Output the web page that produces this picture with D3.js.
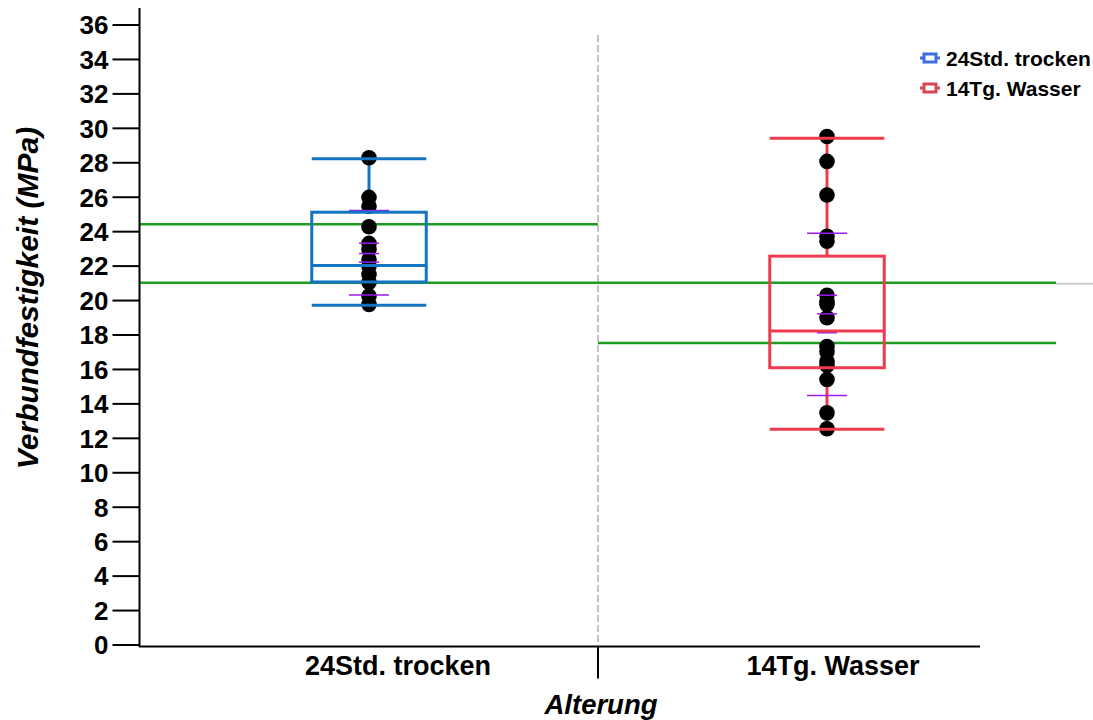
<!DOCTYPE html>
<html>
<head>
<meta charset="utf-8">
<script src="https://cdn.jsdelivr.net/npm/d3@7"></script>
<style>
body { margin: 0; background: #fff; }
text { font-family: "Liberation Sans", Arial, sans-serif; font-weight: bold; }
</style>
</head>
<body>
<svg id="chart" width="1093" height="720"></svg>
<script>
var categories = ["24Std. trocken", "14Tg. Wasser"]
var boxColors = ["#1474c4", "#ee3b4e"]
var legendColors = ["#3d6ee0", "#dd4456"]

// box statistics
var whiskerLow = [19.7, 12.5]
var q1 = [21.05, 16.07]
var median = [22.0, 18.2]
var q3 = [25.1, 22.55]
var whiskerHigh = [28.2, 29.4]

var points = [
    [28.26, 25.96, 25.45, 24.26, 23.29, 22.94, 22.36, 21.97, 21.49, 21.02, 20.23, 19.74],
    [29.5, 28.05, 26.1, 23.7, 23.42, 20.28, 19.9, 19.74, 18.97, 17.3, 17.0, 16.45, 16.2, 15.39, 13.45, 12.53]
]

// purple marks: mean +/- SD (long) and mean / CI (short)
var sdLines = [[25.2, 20.3], [23.88, 14.46]]
var ciLines = [[23.3, 22.7, 22.2], [20.28, 19.2, 18.1]]

// green reference lines per group
var refLines = [[24.4, 21.0], [21.0, 17.5]]

var yTicks = d3.range(0, 37, 2)
var labelShift = [29, 6]

var svg = d3.select("#chart")

var y = d3.scaleLinear().domain([0, 36]).range([644.5, 24.5])
var x = d3.scaleBand().domain(categories).range([140, 1056]).padding(0)
var boxWidth = x.bandwidth() * 0.25

// dashed separator between the groups
svg.append("line")
    .attr("x1", x(categories[1])).attr("x2", x(categories[1]))
    .attr("y1", 35).attr("y2", 646)
    .attr("stroke", "#c4c4c4").attr("stroke-width", 2)
    .attr("stroke-dasharray", "7,3")

// grey continuation of the 21 line on the right edge
svg.append("line")
    .attr("x1", x.range()[1]).attr("x2", 1093)
    .attr("y1", y(21.0) + 1).attr("y2", y(21.0) + 1)
    .attr("stroke", "#cccccc").attr("stroke-width", 2)

// green reference lines
categories.forEach(function (c, i) {
    refLines[i].forEach(function (v) {
        svg.append("line")
            .attr("x1", x(c)).attr("x2", x(c) + x.bandwidth())
            .attr("y1", y(v)).attr("y2", y(v))
            .attr("stroke", "#1e9c22").attr("stroke-width", 2.5)
    })
})

// boxes
categories.forEach(function (c, i) {
    var cx = x(c) + x.bandwidth() / 2
    var g = svg.append("g")
    var col = boxColors[i]

    g.append("line")
        .attr("x1", cx).attr("x2", cx)
        .attr("y1", y(whiskerHigh[i])).attr("y2", y(q3[i]))
        .attr("stroke", col).attr("stroke-width", 3)
    g.append("line")
        .attr("x1", cx).attr("x2", cx)
        .attr("y1", y(q1[i])).attr("y2", y(whiskerLow[i]))
        .attr("stroke", col).attr("stroke-width", 3)

    // dots
    g.selectAll("circle").data(points[i]).join("circle")
        .attr("cx", cx).attr("cy", function (d) { return y(d) })
        .attr("r", 7.8).attr("fill", "#000")

    // purple marks
    sdLines[i].forEach(function (v) {
        g.append("line")
            .attr("x1", cx - 20).attr("x2", cx + 20)
            .attr("y1", y(v)).attr("y2", y(v))
            .attr("stroke", "#9a1cf0").attr("stroke-width", 1.5)
    })
    ciLines[i].forEach(function (v) {
        g.append("line")
            .attr("x1", cx - 10).attr("x2", cx + 10)
            .attr("y1", y(v)).attr("y2", y(v))
            .attr("stroke", "#9a1cf0").attr("stroke-width", 1.5)
    })

    g.append("rect")
        .attr("x", cx - boxWidth / 2).attr("width", boxWidth)
        .attr("y", y(q3[i])).attr("height", y(q1[i]) - y(q3[i]))
        .attr("fill", "none").attr("stroke", col).attr("stroke-width", 3)
    g.append("line")
        .attr("x1", cx - boxWidth / 2).attr("x2", cx + boxWidth / 2)
        .attr("y1", y(median[i])).attr("y2", y(median[i]))
        .attr("stroke", col).attr("stroke-width", 3)
    ;[whiskerHigh[i], whiskerLow[i]].forEach(function (v) {
        g.append("line")
            .attr("x1", cx - boxWidth / 2).attr("x2", cx + boxWidth / 2)
            .attr("y1", y(v)).attr("y2", y(v))
            .attr("stroke", col).attr("stroke-width", 3)
    })
})

// y axis
var yAxis = svg.append("g")
    .attr("transform", "translate(139.5,0)")
    .call(d3.axisLeft(y).tickValues(yTicks).tickSize(27).tickPadding(4).tickSizeOuter(0))
yAxis.select(".domain").attr("d", "M0,8V647").attr("stroke", "#000").attr("stroke-width", 2)
yAxis.selectAll(".tick line").attr("stroke", "#000").attr("stroke-width", 2)
yAxis.selectAll(".tick text").attr("font-size", 26).attr("fill", "#000")
    .attr("font-family", "Liberation Sans, Arial, sans-serif").attr("dy", "0.36em")

// x axis
var xAxis = svg.append("g").attr("transform", "translate(0,646.5)")
xAxis.append("line")
    .attr("x1", 139).attr("x2", 980).attr("y1", 0).attr("y2", 0)
    .attr("stroke", "#000").attr("stroke-width", 2)
xAxis.append("line")
    .attr("x1", x(categories[1])).attr("x2", x(categories[1]))
    .attr("y1", 0).attr("y2", 32)
    .attr("stroke", "#000").attr("stroke-width", 2)
xAxis.selectAll(".xlabel").data(categories).join("text")
    .attr("class", "xlabel")
    .attr("x", function (d, i) { return x(d) + x.bandwidth() / 2 + labelShift[i] })
    .attr("y", 28)
    .attr("text-anchor", "middle").attr("font-size", 27)
    .text(function (d) { return d })

// axis titles
svg.append("text")
    .attr("x", 601).attr("y", 714)
    .attr("text-anchor", "middle").attr("font-size", 27.5).attr("font-style", "italic")
    .text("Alterung")
svg.append("text")
    .attr("transform", "translate(38,298) rotate(-90)")
    .attr("text-anchor", "middle").attr("font-size", 30).attr("font-style", "italic")
    .text("Verbundfestigkeit (MPa)")

// legend
var legend = svg.append("g").attr("transform", "translate(920,58)")
categories.forEach(function (c, i) {
    var row = legend.append("g").attr("transform", "translate(0," + i * 30 + ")")
    row.append("line").attr("x1", 0).attr("x2", 20).attr("y1", 0).attr("y2", 0)
        .attr("stroke", legendColors[i]).attr("stroke-width", 3)
    row.append("rect").attr("x", 4).attr("y", -4).attr("width", 12).attr("height", 8)
        .attr("fill", "#fff").attr("stroke", legendColors[i]).attr("stroke-width", 3)
    row.append("text").attr("x", 26).attr("y", 0).attr("dy", "0.36em")
        .attr("font-size", 21).text(c)
})
</script>
</body>
</html>
